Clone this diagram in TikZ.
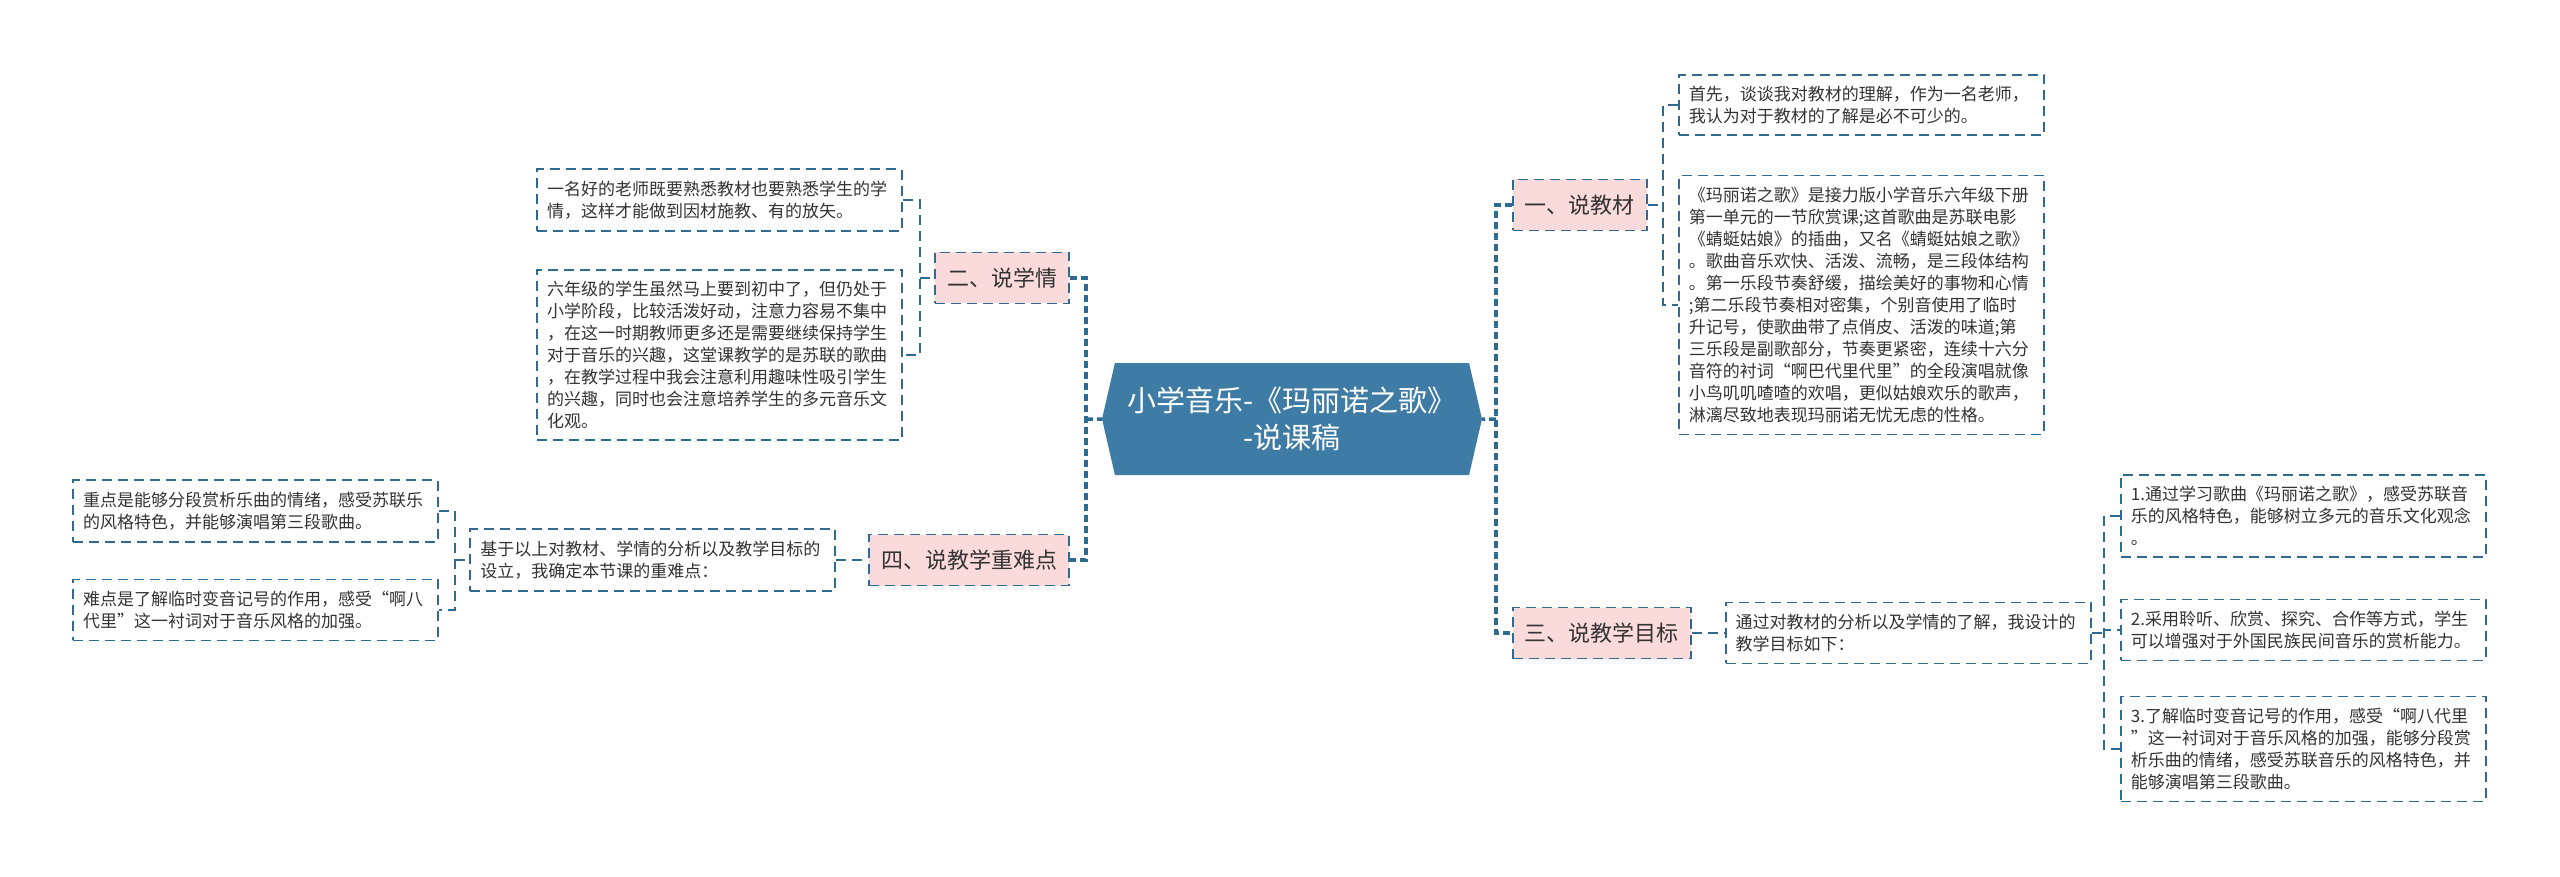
\documentclass[tikz,border=0pt]{standalone}
\usepackage{fontspec}
\setmainfont{Noto Sans CJK SC}
\usetikzlibrary{positioning,shapes.symbols}
\definecolor{linec}{HTML}{2F6B91}
\definecolor{hexc}{HTML}{3F7CA5}
\definecolor{pinkc}{HTML}{FADADA}
\definecolor{textc}{HTML}{333333}

\begin{document}
\begin{tikzpicture}[x=1pt, y=-1pt,
	leaf/.style={draw=linec, line width=1.8pt, dash pattern=on 10pt off 6pt, fill=white, text=textc, align=left, text width=345pt, inner xsep=10pt, inner ysep=11.5pt, font=\fontsize{17}{22}\selectfont},
	topic/.style={draw=linec, line width=1.8pt, dash pattern=on 10pt off 6pt, fill=pinkc, text=textc, inner xsep=12pt, minimum height=51pt, font=\fontsize{22}{26}\selectfont},
	link/.style={draw=linec, line width=1.8pt, dash pattern=on 10pt off 6pt},
	spine/.style={draw=linec, line width=3.5pt, dash pattern=on 7pt off 4pt},
	node distance=32pt]
	\useasboundingbox (0,0) rectangle (2560,877);
	\node[signal, signal to=west and east, signal pointer angle=154, fill=hexc, text=white, align=center, minimum width=380pt, minimum height=112pt, font=\fontsize{29}{37}\selectfont] (title) at (1292,419) {小学音乐-《玛丽诺之歌》\\-说课稿};
	\node[topic, anchor=east] (xq) at (1070,278) {二、说学情};
	\node[topic, anchor=east] (zd) at (1070,560) {四、说教学重难点};
	\node[topic, anchor=west] (jc) at (1512,205) {一、说教材};
	\node[topic, anchor=west] (mb) at (1512,633) {三、说教学目标};
	\node[leaf, anchor=east] (a1) at (903,200) {一名好的老师既要熟悉教材也要熟悉学生的学\\情，这样才能做到因材施教、有的放矢。};
	\node[leaf, anchor=east] (a2) at (903,355) {六年级的学生虽然马上要到初中了，但仍处于\\小学阶段，比较活泼好动，注意力容易不集中\\，在这一时期教师更多还是需要继续保持学生\\对于音乐的兴趣，这堂课教学的是苏联的歌曲\\，在教学过程中我会注意利用趣味性吸引学生\\的兴趣，同时也会注意培养学生的多元音乐文\\化观。};
	\node[leaf, left=of zd] (b0) {基于以上对教材、学情的分析以及教学目标的\\设立，我确定本节课的重难点：};
	\node[leaf, anchor=east] (b1) at (439,511) {重点是能够分段赏析乐曲的情绪，感受苏联乐\\的风格特色，并能够演唱第三段歌曲。};
	\node[leaf, anchor=east] (b2) at (439,610) {难点是了解临时变音记号的作用，感受“啊八\\代里”这一衬词对于音乐风格的加强。};
	\node[leaf, anchor=west] (c1) at (1678,105) {首先，谈谈我对教材的理解，作为一名老师，\\我认为对于教材的了解是必不可少的。};
	\node[leaf, anchor=west] (c2) at (1678,305) {《玛丽诺之歌》是接力版小学音乐六年级下册\\第一单元的一节欣赏课;这首歌曲是苏联电影\\《蜻蜓姑娘》的插曲，又名《蜻蜓姑娘之歌》\\。歌曲音乐欢快、活泼、流畅，是三段体结构\\。第一乐段节奏舒缓，描绘美好的事物和心情\\;第二乐段节奏相对密集，个别音使用了临时\\升记号，使歌曲带了点俏皮、活泼的味道;第\\三乐段是副歌部分，节奏更紧密，连续十六分\\音符的衬词“啊巴代里代里”的全段演唱就像\\小鸟叽叽喳喳的欢唱，更似姑娘欢乐的歌声，\\淋漓尽致地表现玛丽诺无忧无虑的性格。};
	\node[leaf, right=33pt of mb] (d0) {通过对教材的分析以及学情的了解，我设计的\\教学目标如下：};
	\node[leaf, anchor=west] (d1) at (2120,516) {1.通过学习歌曲《玛丽诺之歌》，感受苏联音\\乐的风格特色，能够树立多元的音乐文化观念\\。};
	\node[leaf, anchor=west] (d2) at (2120,630) {2.采用聆听、欣赏、探究、合作等方式，学生\\可以增强对于外国民族民间音乐的赏析能力。};
	\node[leaf, anchor=west] (d3) at (2120,749) {3.了解临时变音记号的作用，感受“啊八代里\\”这一衬词对于音乐风格的加强，能够分段赏\\析乐曲的情绪，感受苏联音乐的风格特色，并\\能够演唱第三段歌曲。};
	\coordinate (spL) at (1086,419);
	\coordinate (spR) at (1496,419);
	\coordinate (brA) at (920,278);
	\coordinate (brB) at (455,560);
	\coordinate (brC) at (1663,205);
	\coordinate (brD) at (2104,633);
	\draw[spine] (xq.east) -| (spL) |- (zd.east);
	\draw[spine] (spL) -- (title);
	\draw[spine] (jc.west) -| (spR) |- (mb.west);
	\draw[spine] (spR) -- (title);
	\draw[link] (a1.east) -| (brA) |- (a2.east);
	\draw[link] (brA) -- (xq);
	\draw[link] (b1.east) -| (brB) |- (b2.east);
	\draw[link] (brB) -- (b0);
	\draw[link] (b0) -- (zd);
	\draw[link] (c1.west) -| (brC) |- (c2.west);
	\draw[link] (jc) -- (brC);
	\draw[link] (d1.west) -| (brD) |- (d3.west);
	\draw[link] (brD) |- (d2.west);
	\draw[link] (mb) -- (d0);
	\draw[link] (d0) -- (brD);
\end{tikzpicture}
\end{document}
